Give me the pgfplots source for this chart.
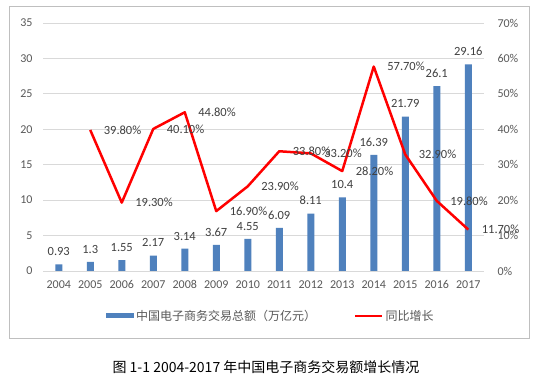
\documentclass[border=0pt]{standalone}
\usepackage{fontspec}
\setmainfont{Carlito}
\newfontfamily\cjk{Noto Sans CJK SC}
\usepackage{pgfplots}
\pgfplotsset{compat=1.18}
\definecolor{barblue}{HTML}{4F81BD}
\definecolor{tickgray}{HTML}{595959}
\definecolor{gridgray}{HTML}{D9D9D9}
\definecolor{labgray}{HTML}{404040}
\definecolor{bordergray}{HTML}{BFBFBF}
\pgfplotsset{
  common/.style={
    at={(43pt,117pt)}, anchor=south west,
    width=441pt, height=248pt, scale only axis,
    xmin=-0.5, xmax=13.5,
    axis line style={draw=none},
    major tick length=0pt, tick style={draw=none},
    ticklabel style={font=\fontsize{12}{14}\selectfont, text=tickgray},
    /pgf/number format/assume math mode=true,
  }
}
\begin{document}
\begin{tikzpicture}[x=1pt,y=1pt]
\path[use as bounding box] (0,0) rectangle (536,388);
\fill[white] (0,0) rectangle (536,388);
\draw[bordergray, line width=0.8pt] (9,50) rectangle (529,382);
\begin{axis}[common,
  ymin=0, ymax=35, ytick={0,5,...,35},
  xtick={0,...,13},
  xticklabels={2004,2005,2006,2007,2008,2009,2010,2011,2012,2013,2014,2015,2016,2017},
  xticklabel style={yshift=-6pt},
  yticklabel style={xshift=-7pt},
  ymajorgrids, grid style={gridgray, line width=0.8pt},
  legend columns=2,
  legend style={at={(0.517,-0.181)}, anchor=center, draw=none, fill=none,
    font=\cjk\fontsize{12}{14}\selectfont, text=tickgray,
    /tikz/every even column/.append style={column sep=36pt},
    /tikz/every odd column/.append style={column sep=0pt},
    inner sep=0pt},
]
\addplot[ybar, bar width=7pt, fill=barblue, draw=none,
  nodes near coords,
  every node near coord/.append style={font=\fontsize{12.5}{14}\selectfont, text=labgray, yshift=5pt},
  legend image code/.code={\fill[barblue] (0pt,-2.6pt) rectangle (28pt,2.6pt);}]
coordinates {(0,0.93) (1,1.3) (2,1.55) (3,2.17) (4,3.14) (5,3.67) (6,4.55) (7,6.09) (8,8.11) (9,10.4) (10,16.39) (11,21.79) (12,26.1) (13,29.16)};
\addlegendentry{中国电子商务交易总额（万亿元）}
\addlegendimage{legend image code/.code={\draw[red, line width=2.5pt] (0pt,0pt) -- (27pt,0pt);}}
\addlegendentry{同比增长}
\end{axis}
\begin{axis}[common,
  ymin=0, ymax=70, ytick={0,10,...,70},
  axis y line*=right,
  axis line style={draw=none},
  xtick=\empty,
  yticklabel={\pgfmathprintnumber{\tick}\%},
  yticklabel style={xshift=10pt, anchor=west},
]
\addplot[red, line width=2.5pt, mark=none, line join=round,
  nodes near coords={\pgfmathprintnumber[fixed,fixed zerofill,precision=2]{\pgfplotspointmeta}\%},
  point meta=y,
  every node near coord/.append style={font=\fontsize{12.5}{14}\selectfont, text=labgray, anchor=west, xshift=9pt}]
coordinates {(1,39.8) (2,19.3) (3,40.1) (4,44.8) (5,16.9) (6,23.9) (7,33.8) (8,33.2) (9,28.2) (10,57.7) (11,32.9) (12,19.8) (13,11.7)};
\end{axis}
\node[font=\cjk\fontsize{14}{16}\selectfont] at (266,21) {图 1-1 2004-2017 年中国电子商务交易额增长情况};
\end{tikzpicture}
\end{document}
